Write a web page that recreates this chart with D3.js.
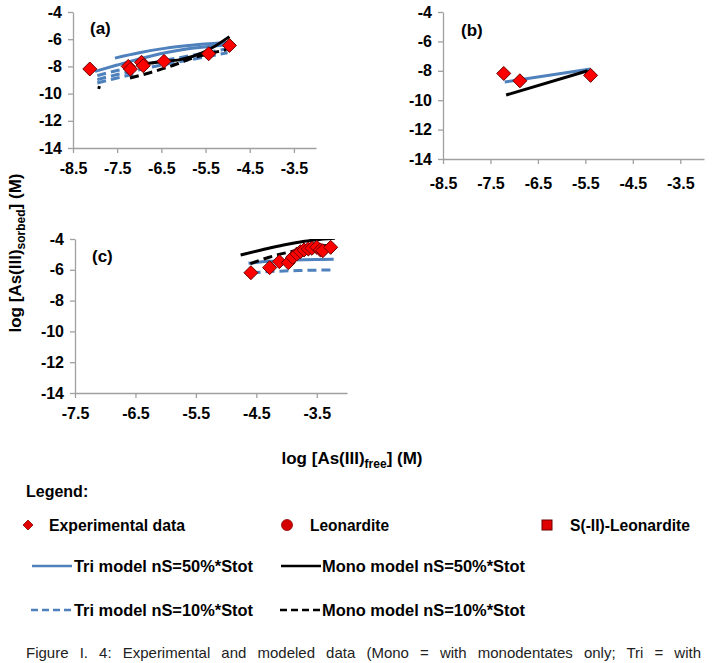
<!DOCTYPE html>
<html><head><meta charset="utf-8">
<script src="https://cdn.jsdelivr.net/npm/d3@7"></script>
<style>
body{margin:0;background:#fff}
svg{display:block}
text{font-family:"Liberation Sans",Arial,Helvetica,sans-serif}
</style>
</head><body>
<svg id="chart" width="717" height="663"></svg>
<script>
// ---------- data ----------
const yTicks = [-4, -6, -8, -10, -12, -14];
const xTicksAB = [-8.5, -7.5, -6.5, -5.5, -4.5, -3.5];
const xTicksC = [-7.5, -6.5, -5.5, -4.5, -3.5];

// panel (a)
const aExpX = [-8.12, -7.25, -7.2, -6.95, -6.91, -6.44, -5.43, -4.96];
const aExpY = [-8.19, -8.0, -8.2, -7.7, -7.95, -7.63, -7.07, -6.46];
const aTri50 = [
  [[-7.55,-7.39],[-7.0,-7.0],[-6.54,-6.73],[-6.0,-6.5],[-5.03,-6.24]],
  [[-8.0,-8.37],[-7.5,-7.9],[-7.0,-7.45],[-6.5,-7.05],[-6.0,-6.75],[-5.0,-6.4]]
];
const aTri10 = [
  [[-7.95,-8.68],[-7.5,-8.3],[-7.0,-7.95],[-6.5,-7.6],[-6.0,-7.3],[-5.0,-6.7]],
  [[-7.95,-8.97],[-7.5,-8.6],[-7.0,-8.25],[-6.5,-7.9],[-6.0,-7.6],[-5.0,-7.0]],
  [[-7.95,-9.22],[-7.5,-8.85],[-7.1,-8.55]]
];
const aMono50 = [
  [[-7.06,-7.88],[-6.5,-7.65],[-6.08,-7.5],[-5.5,-6.9],[-4.96,-5.81]]
];
const aMono10 = [
  [[-7.21,-8.85],[-6.8,-8.5],[-6.3,-8.0],[-5.8,-7.4],[-5.03,-6.78]],
  [[-7.92,-9.65],[-7.9,-9.45]]
];

// panel (b)
const bExpX = [-7.22, -6.88, -5.39];
const bExpY = [-8.18, -8.68, -8.31];
const bTri50 = [[[-7.2,-8.76],[-5.39,-7.88]]];
const bMono50 = [[[-7.17,-9.65],[-5.45,-8.0]]];

// panel (c)
const cExpX = [-4.59,-4.28,-4.12,-3.97,-3.90,-3.83,-3.77,-3.71,-3.64,-3.58,-3.50,-3.44,-3.40,-3.27];
const cExpY = [-6.19,-5.86,-5.47,-5.54,-5.19,-4.97,-4.82,-4.71,-4.65,-4.60,-4.54,-4.71,-4.76,-4.54];
const cTri50 = [[[-4.63,-5.58],[-4.3,-5.45],[-3.9,-5.37],[-3.5,-5.33],[-3.22,-5.32]]];
const cTri10 = [[[-4.58,-6.19],[-4.2,-6.1],[-3.8,-6.05],[-3.22,-6.01]]];
const cMono50 = [[[-4.76,-5.04],[-4.4,-4.7],[-4.05,-4.39],[-3.7,-4.15],[-3.39,-4.0],[-3.2,-3.95]]];
const cMono10 = [[[-4.6,-5.6],[-4.3,-5.2],[-3.9,-4.8],[-3.5,-4.5],[-3.3,-4.4]]];

// ---------- drawing ----------
const svg = d3.select("#chart");
const BLUE = "#4f81bd";
const AXIS = "#a0a0a0";
let clipId = 0;

function panel(cfg) {
  const x = d3.scaleLinear().domain(cfg.xDomain).range([cfg.left, cfg.right]);
  const y = d3.scaleLinear().domain([-14, -4]).range([cfg.bottom, cfg.top]);
  const g = svg.append("g");

  const ya = g.append("g").attr("transform", `translate(${cfg.left},0)`)
    .call(d3.axisLeft(y).tickValues(yTicks).tickSize(5).tickSizeOuter(0).tickPadding(6).tickFormat(d => String(d)));
  const xa = g.append("g").attr("transform", `translate(0,${cfg.bottom})`)
    .call(d3.axisBottom(x).tickValues(cfg.xTicks).tickSize(5).tickSizeOuter(0).tickPadding(cfg.xPad).tickFormat(d => d.toFixed(1)));
  [ya, xa].forEach(a => {
    a.select(".domain").attr("stroke", AXIS).attr("stroke-width", 1.3);
    a.selectAll(".tick line").attr("stroke", AXIS).attr("stroke-width", 1.3);
    a.selectAll(".tick text").attr("fill", "#000").style("font-size", "16px").style("font-weight", "bold")
      .style("font-family", '"Liberation Sans", Arial, sans-serif');
  });

  const id = "clip" + (clipId++);
  svg.append("clipPath").attr("id", id).append("rect")
    .attr("x", cfg.left).attr("y", cfg.top).attr("width", cfg.right - cfg.left).attr("height", cfg.bottom - cfg.top);
  const lg = g.append("g").attr("clip-path", `url(#${id})`);
  const line = d3.line().x(d => x(d[0])).y(d => y(d[1])).curve(d3.curveMonotoneX);

  const drawSet = (set, color, dash) => (set || []).forEach(s => {
    lg.append("path").datum(s).attr("d", line).attr("fill", "none")
      .attr("stroke", color).attr("stroke-width", 3)
      .attr("stroke-dasharray", dash ? "9,5" : null);
  });
  drawSet(cfg.tri10, BLUE, true);
  drawSet(cfg.tri50, BLUE, false);
  drawSet(cfg.mono10, "#000", true);
  drawSet(cfg.mono50, "#000", false);

  const pts = cfg.expX.map((v, i) => [v, cfg.expY[i]]);
  g.append("g").selectAll("path").data(pts).join("path")
    .attr("transform", d => `translate(${x(d[0])},${y(d[1])})`)
    .attr("d", "M0,-7L7,0L0,7L-7,0Z")
    .attr("fill", "#ff0000").attr("stroke", "#6b0000").attr("stroke-width", 1);

  g.append("text").attr("x", cfg.labX).attr("y", cfg.labY).text(cfg.label)
    .style("font-size", "17px").style("font-weight", "bold");
}

panel({xDomain: [-8.5, -3.0], left: 73, right: 316, top: 12, bottom: 148, xTicks: xTicksAB, xPad: 10,
  expX: aExpX, expY: aExpY, tri50: aTri50, tri10: aTri10, mono50: aMono50, mono10: aMono10,
  label: "(a)", labX: 90, labY: 34});
panel({xDomain: [-8.5, -3.0], left: 443, right: 704, top: 12, bottom: 159, xTicks: xTicksAB, xPad: 14,
  expX: bExpX, expY: bExpY, tri50: bTri50, mono50: bMono50,
  label: "(b)", labX: 461, labY: 36});
panel({xDomain: [-7.5, -3.0], left: 75, right: 347, top: 239, bottom: 393, xTicks: xTicksC, xPad: 10,
  expX: cExpX, expY: cExpY, tri50: cTri50, tri10: cTri10, mono50: cMono50, mono10: cMono10,
  label: "(c)", labX: 92, labY: 262});

// axis titles
const yt = svg.append("text").attr("transform", "translate(21,253) rotate(-90)")
  .attr("text-anchor", "middle").style("font-size", "17px").style("font-weight", "bold");
yt.append("tspan").text("log [As(III)");
yt.append("tspan").text("sorbed").style("font-size", "12px").attr("dy", 4);
yt.append("tspan").text("] (M)").attr("dy", -4);

const xt = svg.append("text").attr("x", 352).attr("y", 464)
  .attr("text-anchor", "middle").style("font-size", "17px").style("font-weight", "bold");
xt.append("tspan").text("log [As(III)");
xt.append("tspan").text("free").style("font-size", "12px").attr("dy", 4);
xt.append("tspan").text("] (M)").attr("dy", -4);

// legend
const legendTitle = "Legend:";
const legendItems = [
  {type: "diamond", label: "Experimental data", mx: 28, tx: 49, tw: 136, row: 0},
  {type: "circle", label: "Leonardite", mx: 287, tx: 310, tw: 79, row: 0},
  {type: "square", label: "S(-II)-Leonardite", mx: 547, tx: 570, tw: 120, row: 0},
  {type: "line", color: BLUE, dash: false, label: "Tri model nS=50%*Stot", mx: 32, tx: 74, tw: 179, row: 1},
  {type: "line", color: "#000", dash: false, label: "Mono model nS=50%*Stot", mx: 281, tx: 322, tw: 203, row: 1},
  {type: "line", color: BLUE, dash: true, label: "Tri model nS=10%*Stot", mx: 31, tx: 74, tw: 179, row: 2},
  {type: "line", color: "#000", dash: true, label: "Mono model nS=10%*Stot", mx: 280, tx: 322, tw: 203, row: 2}
];
const rowY = [525, 566, 610];

svg.append("text").attr("x", 26).attr("y", 497).text(legendTitle)
  .style("font-size", "16px").style("font-weight", "bold");

legendItems.forEach(it => {
  const cy = rowY[it.row];
  if (it.type === "diamond") {
    svg.append("path").attr("transform", `translate(${it.mx},${cy})`).attr("d", "M0,-5L5,0L0,5L-5,0Z")
      .attr("fill", "#e00000").attr("stroke", "#8b0000").attr("stroke-width", 0.8);
  } else if (it.type === "circle") {
    svg.append("circle").attr("cx", it.mx).attr("cy", cy).attr("r", 5.5)
      .attr("fill", "#d40000").attr("stroke", "#8b0000").attr("stroke-width", 0.8);
  } else if (it.type === "square") {
    svg.append("rect").attr("x", it.mx - 5).attr("y", cy - 5).attr("width", 10).attr("height", 10)
      .attr("fill", "#e00000").attr("stroke", "#6b0000").attr("stroke-width", 1);
  } else {
    svg.append("line").attr("x1", it.mx).attr("x2", it.mx + 40).attr("y1", cy).attr("y2", cy)
      .attr("stroke", it.color).attr("stroke-width", 2.5)
      .attr("stroke-dasharray", it.dash ? "7,4" : null);
  }
  svg.append("text").attr("x", it.tx).attr("y", cy + 5.5).text(it.label)
    .attr("textLength", it.tw).attr("lengthAdjust", "spacingAndGlyphs")
    .style("font-size", "16px").style("font-weight", "bold");
});

// caption, justified
const caption = "Figure I. 4: Experimental and modeled data (Mono = with monodentates only; Tri = with";
const cap = svg.append("text").attr("x", 26).attr("y", 658).text(caption)
  .style("font-size", "15px").attr("fill", "#222");
const natural = cap.node().getComputedTextLength();
const spaces = (caption.match(/ /g) || []).length;
cap.style("word-spacing", ((701 - 26 - natural) / spaces) + "px");
</script>
</body></html>
